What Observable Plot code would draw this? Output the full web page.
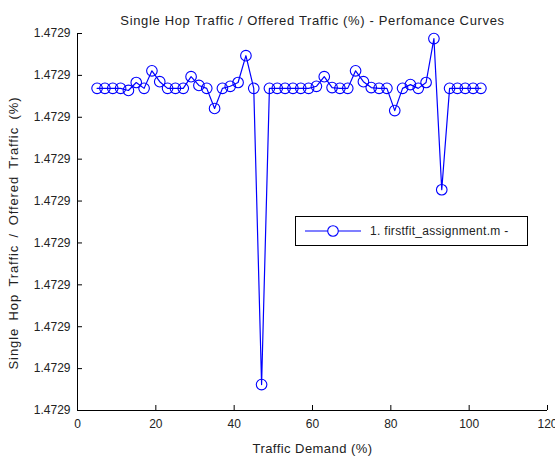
<!DOCTYPE html>
<html><head><meta charset="utf-8">
<script src="https://cdn.jsdelivr.net/npm/d3@7"></script>
<script src="https://cdn.jsdelivr.net/npm/@observablehq/plot@0.6"></script>
<style>
body{margin:0;background:#fff;}
#wrap{position:relative;width:555px;height:462px;font-family:"Liberation Sans",Arial,sans-serif;}
#legend{position:absolute;left:295px;top:216px;width:233px;height:30px;border:1px solid #000;background:#fff;box-sizing:border-box;display:flex;align-items:center;font-size:12px;color:#222;letter-spacing:0.3px;}
#legend svg{margin-left:9px;margin-right:9px;}
</style>
</head><body><div id="wrap"></div>
<script>
const demand = [5,7,9,11,13,15,17,19,21,23,25,27,29,31,33,35,37,39,41,43,45,47,49,51,53,55,57,59,61,63,65,67,69,71,73,75,77,79,81,83,85,87,89,91,93,95,97,99,101,103];
const ratio = [1.47290769,1.47290769,1.47290769,1.47290769,1.47290764,1.47290783,1.47290769,1.47290811,1.47290785,1.47290769,
1.47290769,1.47290769,1.47290797,1.47290776,1.47290769,1.47290721,1.47290769,1.47290774,1.47290783,1.47290847,
1.47290769,1.47290062,1.47290769,1.47290769,1.47290769,1.47290769,1.47290769,1.47290769,1.47290774,1.47290797,
1.47290771,1.47290769,1.47290769,1.47290811,1.47290785,1.47290771,1.47290769,1.47290769,1.47290716,1.47290769,
1.47290778,1.47290769,1.47290783,1.47290888,1.47290527,1.47290769,1.47290769,1.47290769,1.47290769,1.47290769];
const xTicks = [0,20,40,60,80,100,120];
const yTicks = [1.4729,1.472901,1.472902,1.472903,1.472904,1.472905,1.472906,1.472907,1.472908,1.472909];
const titleText = "Single Hop Traffic / Offered Traffic (%) - Perfomance Curves";
const xLabel = "Traffic Demand (%)";
const yLabel = "Single Hop Traffic / Offered Traffic (%)";
const seriesName = "1. firstfit_assignment.m -";

const data = demand.map((d, i) => ({x: d, y: ratio[i]}));
const blue = "#0000ff";

const chart = Plot.plot({
  width: 555, height: 462,
  marginLeft: 77, marginRight: 8, marginTop: 33, marginBottom: 52,
  style: {fontFamily: '"Liberation Sans", Arial, sans-serif', fontSize: "12px", color: "#222", background: "#fff"},
  x: {domain: [0, 120]},
  y: {domain: [1.4729, 1.472909]},
  marks: [
    Plot.ruleX([0], {stroke: "#000"}),
    Plot.ruleY([1.4729], {stroke: "#000"}),
    Plot.axisX({ticks: xTicks, tickSize: 5, tickFormat: () => "", dy: -5, label: null, stroke: "#000"}),
    Plot.axisX({ticks: xTicks, tickSize: 0, tickPadding: 9, label: null}),
    Plot.axisY({ticks: yTicks, tickSize: 5, tickFormat: () => "", dx: 5, label: null, stroke: "#000"}),
    Plot.axisY({ticks: yTicks, tickSize: 0, tickPadding: 7, tickFormat: d3.format(".4f"), label: null}),
    Plot.line(data, {x: "x", y: "y", stroke: blue, strokeWidth: 1.2}),
    Plot.dot(data, {x: "x", y: "y", r: 5.3, stroke: blue, fill: "none", strokeWidth: 1.1}),
    Plot.text([titleText], {frameAnchor: "top", dy: -18, fontSize: 13, fill: "#222", textAnchor: "middle"}),
    Plot.text([xLabel], {frameAnchor: "bottom", dy: 42, fontSize: 13, fill: "#222", textAnchor: "middle"}),
    Plot.text([yLabel], {frameAnchor: "left", dx: -64, dy: 11, rotate: -90, fontSize: 13, fill: "#222", textAnchor: "middle"})
  ]
});
const svg = d3.select(chart);
svg.selectAll("text").each(function() {
  const t = this.textContent;
  if (t === titleText) this.setAttribute("letter-spacing", "0.65");
  else if (t === xLabel) this.setAttribute("letter-spacing", "0.45");
  else if (t === yLabel) { this.setAttribute("letter-spacing", "0.9"); this.setAttribute("word-spacing", "3"); }
});
const wrap = document.getElementById("wrap");
wrap.appendChild(chart);
const leg = document.createElement("div");
leg.id = "legend";
leg.innerHTML = `<svg width="56" height="12"><line x1="0" y1="6" x2="56" y2="6" stroke="${blue}" stroke-width="1.2"/><circle cx="28" cy="6" r="5.3" stroke="${blue}" fill="white" stroke-width="1.1"/></svg><span></span>`;
leg.querySelector("span").textContent = seriesName;
wrap.appendChild(leg);
</script>
</body></html>
